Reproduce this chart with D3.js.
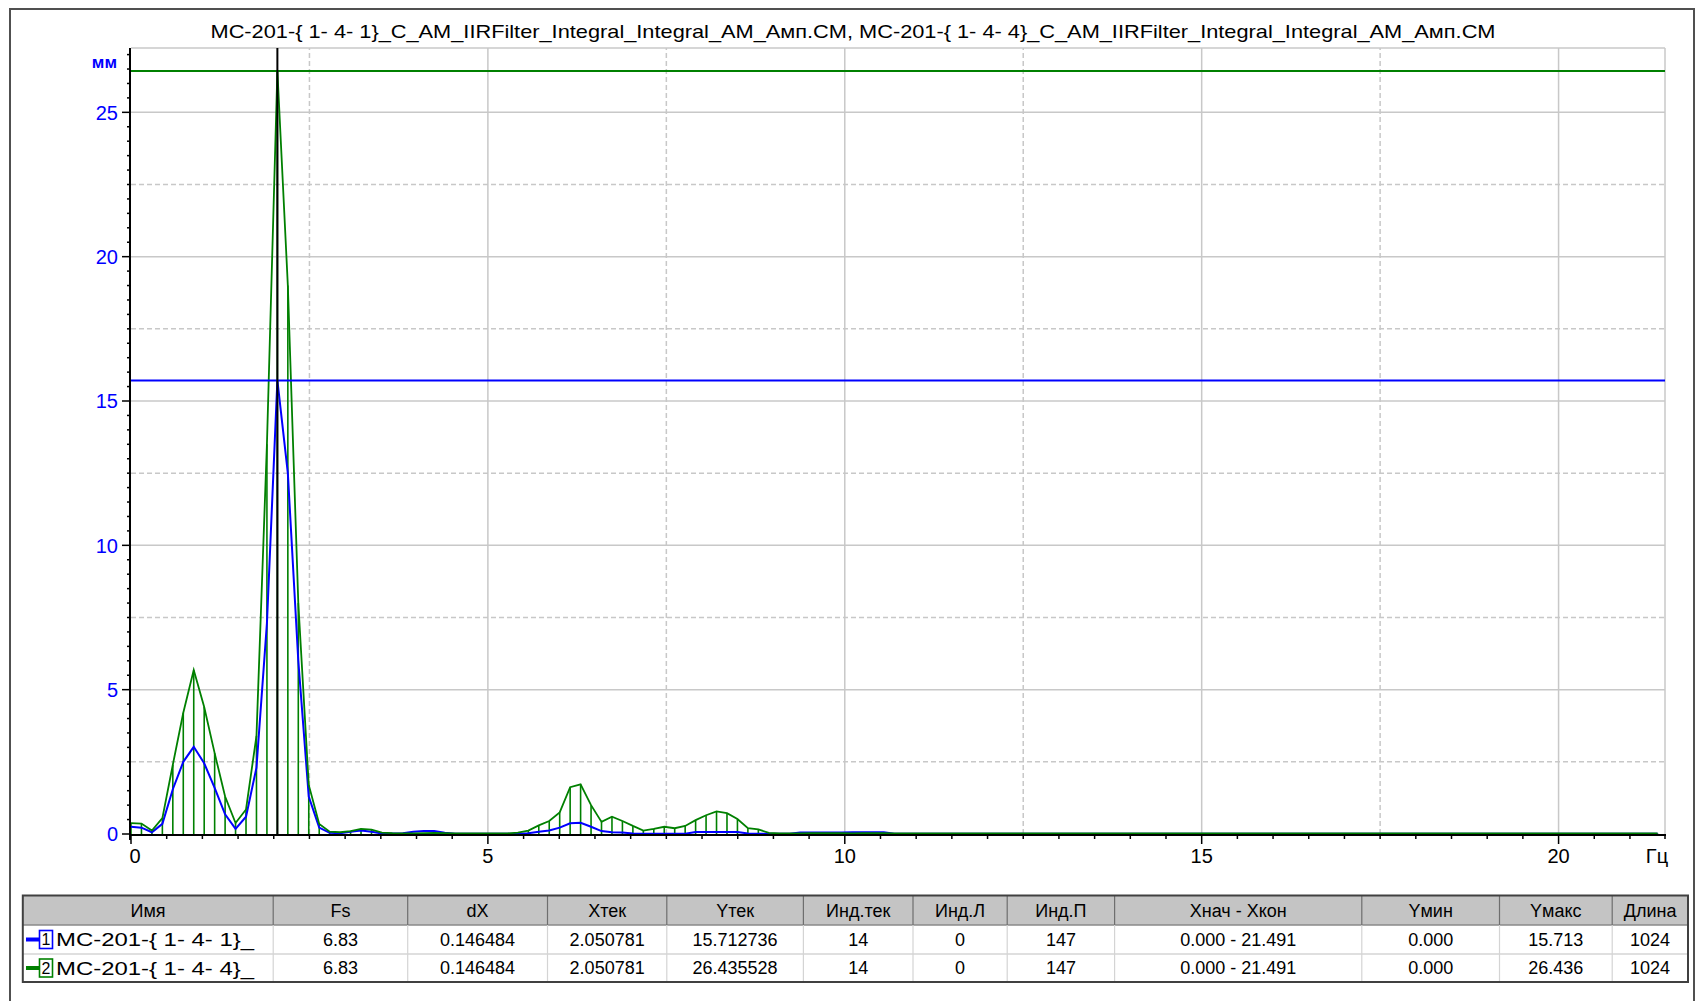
<!DOCTYPE html>
<html>
<head>
<meta charset="utf-8">
<script src="https://cdn.jsdelivr.net/npm/d3@7"></script>
<style>
  body { margin: 0; background: #fff; }
  svg { display: block; font-family: "Liberation Sans", Arial, sans-serif; }
</style>
</head>
<body>
<svg id="chart" width="1700" height="1001"></svg>
<script>
// ---- data ----
const chartTitle = "MC-201-{ 1- 4- 1}_C_AM_IIRFilter_Integral_Integral_AM_Амп.CM, MC-201-{ 1- 4- 4}_C_AM_IIRFilter_Integral_Integral_AM_Амп.CM";
const binStep = 0.146484;          // dX, Hz per bin
const xEnd = 21.491;               // Xкон
const xUnit = "Гц";
const yUnit = "мм";
const xTickValues = [0, 5, 10, 15, 20];
const yTickValues = [0, 5, 10, 15, 20, 25];
const cursorIndex = 14;

// amplitude spectrum, channel 1 (blue)
const series1Values = [
  0.25, 0.22, 0.06, 0.35, 1.55, 2.5, 3.02, 2.45, 1.6, 0.68,
  0.18, 0.6, 2.3, 7.3, 15.712736, 12.5, 6.0, 1.3, 0.22, 0.04,
  0.03, 0.08, 0.12, 0.08, 0.02, 0.02, 0.03, 0.08, 0.1, 0.1,
  0.04, 0.01, 0.01, 0.01, 0.01, 0.01, 0.01, 0.01, 0.03, 0.08,
  0.12, 0.22, 0.37, 0.39, 0.25, 0.1, 0.06, 0.05, 0.02, 0.01,
  0.01, 0.01, 0.01, 0.01, 0.07, 0.07, 0.07, 0.07, 0.07, 0.02,
  0.01, 0.01, 0.01, 0.01, 0.05, 0.05, 0.05, 0.05, 0.05, 0.06,
  0.06, 0.06, 0.06, 0.01, 0.01, 0.01, 0.01, 0.01, 0.01, 0.01,
  0.01, 0.01, 0.01, 0.01, 0.01, 0.01, 0.01, 0.01, 0.01, 0.01,
  0.01, 0.01, 0.01, 0.01, 0.01, 0.01, 0.01, 0.01, 0.01, 0.01,
  0.01, 0.01, 0.01, 0.01, 0.01, 0.01, 0.01, 0.01, 0.01, 0.01,
  0.01, 0.01, 0.01, 0.01, 0.01, 0.01, 0.01, 0.01, 0.01, 0.01,
  0.01, 0.01, 0.01, 0.01, 0.01, 0.01, 0.01, 0.01, 0.01, 0.01,
  0.01, 0.01, 0.01, 0.01, 0.01, 0.01, 0.01, 0.01, 0.01, 0.01,
  0.01, 0.01, 0.01, 0.01, 0.01, 0.01, 0.01
];

// amplitude spectrum, channel 4 (green)
const series2Values = [
  0.38, 0.36, 0.12, 0.55, 2.4, 4.2, 5.68, 4.4, 2.8, 1.3,
  0.38, 0.85, 3.4, 13.5, 26.435528, 19.0, 8.0, 1.7, 0.35, 0.08,
  0.06, 0.1, 0.18, 0.15, 0.05, 0.03, 0.02, 0.02, 0.03, 0.04,
  0.03, 0.02, 0.02, 0.02, 0.02, 0.02, 0.02, 0.05, 0.12, 0.3,
  0.45, 0.75, 1.62, 1.72, 1.0, 0.42, 0.6, 0.45, 0.28, 0.12,
  0.18, 0.25, 0.2, 0.28, 0.48, 0.65, 0.78, 0.72, 0.52, 0.2,
  0.16, 0.04, 0.02, 0.02, 0.02, 0.03, 0.03, 0.03, 0.03, 0.02,
  0.03, 0.03, 0.03, 0.02, 0.02, 0.02, 0.02, 0.02, 0.02, 0.02,
  0.02, 0.02, 0.02, 0.02, 0.02, 0.02, 0.02, 0.02, 0.02, 0.02,
  0.02, 0.02, 0.02, 0.02, 0.02, 0.02, 0.02, 0.02, 0.02, 0.02,
  0.02, 0.02, 0.02, 0.02, 0.02, 0.02, 0.02, 0.02, 0.02, 0.02,
  0.02, 0.02, 0.02, 0.02, 0.02, 0.02, 0.02, 0.02, 0.02, 0.02,
  0.02, 0.02, 0.02, 0.02, 0.02, 0.02, 0.02, 0.02, 0.02, 0.02,
  0.02, 0.02, 0.02, 0.02, 0.02, 0.02, 0.02, 0.02, 0.02, 0.02,
  0.02, 0.02, 0.02, 0.02, 0.02, 0.02, 0.02
];

const seriesColors = ["#0000ff", "#008000"];
const seriesNumbers = ["1", "2"];
const seriesNames = ["MC-201-{ 1- 4- 1}_", "MC-201-{ 1- 4- 4}_"];
const tableHeaders = ["Имя", "Fs", "dX", "Xтек", "Yтек", "Инд.тек", "Инд.Л", "Инд.П", "Xнач - Xкон", "Yмин", "Yмакс", "Длина"];
const row1Cells = ["6.83", "0.146484", "2.050781", "15.712736", "14", "0", "147", "0.000 - 21.491", "0.000", "15.713", "1024"];
const row2Cells = ["6.83", "0.146484", "2.050781", "26.435528", "14", "0", "147", "0.000 - 21.491", "0.000", "26.436", "1024"];

// ---- drawing ----
const svg = d3.select("#chart");
const yTop = d3.max(series2Values) * 1.03;

const x = d3.scaleLinear().domain([0, xEnd]).range([131, 1665]);
const y = d3.scaleLinear().domain([0, yTop]).range([834, 48]);

// outer frame
svg.append("rect").attr("x", 10).attr("y", 9).attr("width", 1684).attr("height", 1000)
  .attr("fill", "none").attr("stroke", "#505050").attr("stroke-width", 2);

// title
svg.append("text").attr("x", (x.range()[0] + x.range()[1]) / 2 - 45).attr("y", 38)
  .attr("text-anchor", "middle").attr("font-size", 19).attr("fill", "#000")
  .attr("textLength", 1285).attr("lengthAdjust", "spacingAndGlyphs")
  .text(chartTitle);

const grid = svg.append("g");
const gridColor = "#c8c8c8";
// horizontal grid
yTickValues.filter(v => v > 0).forEach(v => {
  grid.append("line").attr("x1", x(0)).attr("x2", x(xEnd)).attr("y1", y(v)).attr("y2", y(v))
    .attr("stroke", gridColor).attr("stroke-width", 1.5);
});
yTickValues.map(v => v + 2.5).filter(v => v < yTop).forEach(v => {
  grid.append("line").attr("x1", x(0)).attr("x2", x(xEnd)).attr("y1", y(v)).attr("y2", y(v))
    .attr("stroke", gridColor).attr("stroke-width", 1.5).attr("stroke-dasharray", "5,3");
});
// vertical grid
xTickValues.filter(v => v > 0).forEach(v => {
  grid.append("line").attr("x1", x(v)).attr("x2", x(v)).attr("y1", y(0)).attr("y2", y(yTop))
    .attr("stroke", gridColor).attr("stroke-width", 1.5);
});
xTickValues.map(v => v + 2.5).filter(v => v < xEnd).forEach(v => {
  grid.append("line").attr("x1", x(v)).attr("x2", x(v)).attr("y1", y(0)).attr("y2", y(yTop))
    .attr("stroke", gridColor).attr("stroke-width", 1.5).attr("stroke-dasharray", "5,3");
});
// plot border (top and right)
grid.append("line").attr("x1", x(0)).attr("x2", x(xEnd)).attr("y1", y(yTop)).attr("y2", y(yTop))
  .attr("stroke", gridColor).attr("stroke-width", 1.5);
grid.append("line").attr("x1", x(xEnd)).attr("x2", x(xEnd)).attr("y1", y(0)).attr("y2", y(yTop))
  .attr("stroke", gridColor).attr("stroke-width", 1.5);

// bins
const bins1 = series1Values.map((v, i) => ({ f: i * binStep, v }));
const bins2 = series2Values.map((v, i) => ({ f: i * binStep, v }));

// stems of channel 4
svg.append("g").selectAll("line").data(bins2).join("line")
  .attr("x1", d => x(d.f)).attr("x2", d => x(d.f))
  .attr("y1", y(0)).attr("y2", d => y(d.v))
  .attr("stroke", seriesColors[1]).attr("stroke-width", 1.6);

const line = d3.line().x(d => x(d.f)).y(d => y(d.v));
svg.append("path").datum(bins1).attr("d", line)
  .attr("fill", "none").attr("stroke", seriesColors[0]).attr("stroke-width", 2);
svg.append("path").datum(bins2).attr("d", line)
  .attr("fill", "none").attr("stroke", seriesColors[1]).attr("stroke-width", 1.8);

// cursor value lines
svg.append("line").attr("x1", x(0)).attr("x2", x(xEnd))
  .attr("y1", y(series2Values[cursorIndex])).attr("y2", y(series2Values[cursorIndex]))
  .attr("stroke", seriesColors[1]).attr("stroke-width", 2);
svg.append("line").attr("x1", x(0)).attr("x2", x(xEnd))
  .attr("y1", y(series1Values[cursorIndex])).attr("y2", y(series1Values[cursorIndex]))
  .attr("stroke", seriesColors[0]).attr("stroke-width", 2);
// cursor
svg.append("line").attr("x1", x(cursorIndex * binStep)).attr("x2", x(cursorIndex * binStep))
  .attr("y1", y(0)).attr("y2", y(yTop))
  .attr("stroke", "#000").attr("stroke-width", 2);

// axes
const axisG = svg.append("g");
axisG.append("line").attr("x1", x(0) - 1).attr("x2", x(0) - 1).attr("y1", y(yTop)).attr("y2", y(0) + 6)
  .attr("stroke", "#000").attr("stroke-width", 2);
axisG.append("line").attr("x1", x(0) - 1).attr("x2", x(xEnd) + 1).attr("y1", y(0) + 1).attr("y2", y(0) + 1)
  .attr("stroke", "#000").attr("stroke-width", 2);

// y minor/major ticks
d3.range(0, yTop, 0.5).forEach(v => {
  const major = yTickValues.includes(v);
  axisG.append("line").attr("x1", x(0) - (major ? 9 : 4)).attr("x2", x(0) - 1)
    .attr("y1", y(v)).attr("y2", y(v)).attr("stroke", "#000").attr("stroke-width", 1.5);
});
// x minor/major ticks
d3.range(0, 21.51, 0.5).forEach(v => {
  const major = xTickValues.includes(v);
  const px = Math.min(x(v), x(xEnd));
  axisG.append("line").attr("x1", px).attr("x2", px)
    .attr("y1", y(0) + 1).attr("y2", y(0) + (major ? 10 : 5)).attr("stroke", "#000").attr("stroke-width", 1.5);
});

// tick labels
yTickValues.forEach(v => {
  axisG.append("text").attr("x", 118).attr("y", y(v)).attr("dy", "0.36em")
    .attr("text-anchor", "end").attr("font-size", 20).attr("fill", "#0000ff").text(v);
});
xTickValues.forEach(v => {
  axisG.append("text").attr("x", x(v) + (v === 0 ? 4 : 0)).attr("y", 863)
    .attr("text-anchor", "middle").attr("font-size", 20).attr("fill", "#000").text(v);
});
axisG.append("text").attr("x", 1657).attr("y", 863).attr("text-anchor", "middle")
  .attr("font-size", 20).attr("fill", "#000").text(xUnit);
axisG.append("text").attr("x", 117).attr("y", 68).attr("text-anchor", "end")
  .attr("font-size", 17).attr("font-weight", "bold").attr("fill", "#0000ff").text(yUnit);

// ---- summary table ----
const colEdges = [22.8, 273.2, 407.7, 547.5, 666.8, 803.4, 913, 1007.2, 1114.6, 1361.8, 1499.5, 1612.2, 1688];
const rowEdges = [895.5, 925, 954, 982];
const tbl = svg.append("g").attr("font-size", 18);

tbl.append("rect").attr("x", colEdges[0]).attr("y", rowEdges[0])
  .attr("width", colEdges[12] - colEdges[0]).attr("height", rowEdges[1] - rowEdges[0])
  .attr("fill", "#c4c4c4");
tbl.append("rect").attr("x", colEdges[0]).attr("y", rowEdges[1])
  .attr("width", colEdges[12] - colEdges[0]).attr("height", rowEdges[3] - rowEdges[1])
  .attr("fill", "#fff");

// inner separators
[rowEdges[1], rowEdges[2]].forEach(yy => {
  tbl.append("line").attr("x1", colEdges[0]).attr("x2", colEdges[12]).attr("y1", yy).attr("y2", yy)
    .attr("stroke", yy === rowEdges[1] ? "#8a8a8a" : "#d4d4d4").attr("stroke-width", 1.5);
});
colEdges.slice(1, -1).forEach(xx => {
  tbl.append("line").attr("x1", xx).attr("x2", xx).attr("y1", rowEdges[0]).attr("y2", rowEdges[1])
    .attr("stroke", "#6e6e6e").attr("stroke-width", 1.2);
  tbl.append("line").attr("x1", xx).attr("x2", xx).attr("y1", rowEdges[1]).attr("y2", rowEdges[3])
    .attr("stroke", "#d4d4d4").attr("stroke-width", 1.2);
});
tbl.append("rect").attr("x", colEdges[0]).attr("y", rowEdges[0])
  .attr("width", colEdges[12] - colEdges[0]).attr("height", rowEdges[3] - rowEdges[0])
  .attr("fill", "none").attr("stroke", "#404040").attr("stroke-width", 2);

const mid = (a, b) => (a + b) / 2;
tableHeaders.forEach((h, i) => {
  tbl.append("text").attr("x", mid(colEdges[i], colEdges[i + 1])).attr("y", mid(rowEdges[0], rowEdges[1]))
    .attr("dy", "0.36em").attr("text-anchor", "middle").attr("fill", "#000").text(h);
});

[row1Cells, row2Cells].forEach((cells, r) => {
  const cy = mid(rowEdges[r + 1], rowEdges[r + 2]);
  const col = seriesColors[r];
  // legend swatch
  tbl.append("line").attr("x1", 26).attr("x2", 39).attr("y1", cy).attr("y2", cy)
    .attr("stroke", col).attr("stroke-width", 4);
  tbl.append("rect").attr("x", 39.5).attr("y", cy - 9).attr("width", 13).attr("height", 18)
    .attr("fill", "#fff").attr("stroke", col).attr("stroke-width", 1.6);
  tbl.append("text").attr("x", 46).attr("y", cy).attr("dy", "0.36em").attr("text-anchor", "middle")
    .attr("fill", "#000").attr("font-size", 16).text(seriesNumbers[r]);
  tbl.append("text").attr("x", 56).attr("y", cy).attr("dy", "0.36em").attr("font-size", 19)
    .attr("fill", "#000").attr("textLength", 198).attr("lengthAdjust", "spacingAndGlyphs")
    .text(seriesNames[r]);
  cells.forEach((c, i) => {
    tbl.append("text").attr("x", mid(colEdges[i + 1], colEdges[i + 2])).attr("y", cy)
      .attr("dy", "0.36em").attr("text-anchor", "middle").attr("fill", "#000").text(c);
  });
});
</script>
</body>
</html>
